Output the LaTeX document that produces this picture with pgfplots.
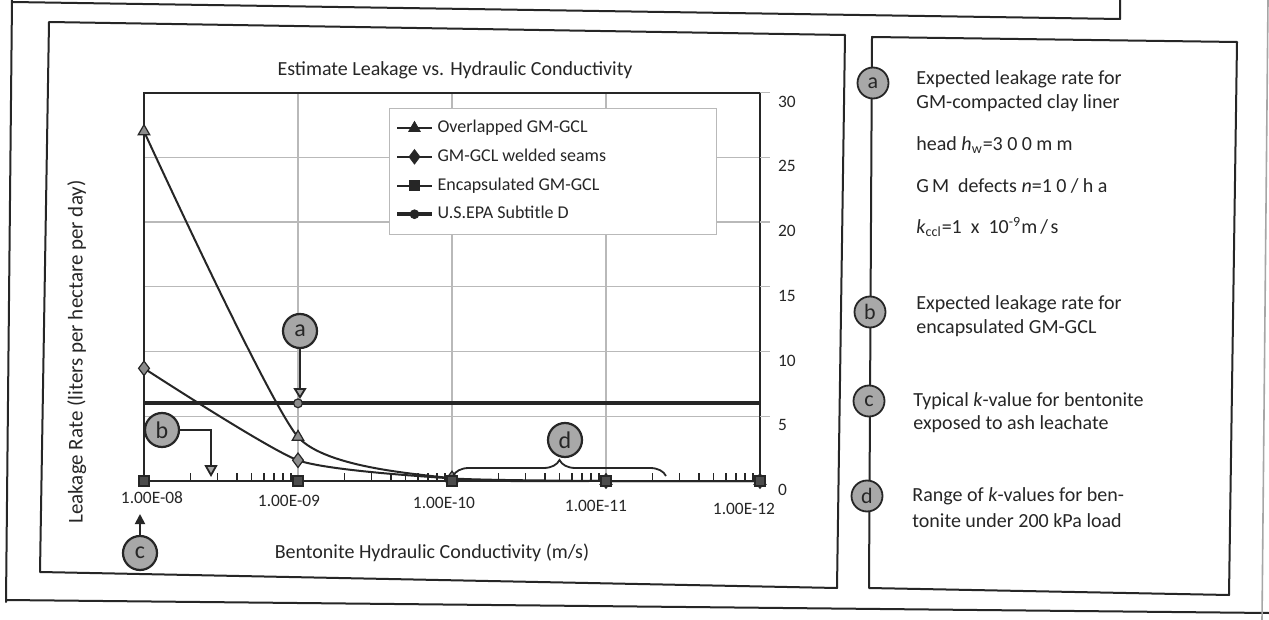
\documentclass[border=0pt]{standalone}
\usepackage{fontspec}
\setmainfont{Carlito}
\usepackage{pgfplots}
\pgfplotsset{compat=1.18}
\usetikzlibrary{arrows.meta,decorations.pathreplacing}
\definecolor{ink}{HTML}{262626}
\definecolor{markgray}{HTML}{8C8C8C}
\definecolor{circgray}{HTML}{A8A8A8}
\begin{document}
\begin{tikzpicture}
\useasboundingbox (0,0) rectangle (634.5pt,-310pt);
\fill[white] (0,0) rectangle (634.5pt,-310pt);
% ---------- frames (pixel coordinates, y downward) ----------
\begin{scope}[x=0.5pt,y=-0.5pt,line join=round,line cap=round]
  \draw[ink,line width=1pt] (12,0) -- (6,602);
  \draw[ink,line width=1pt] (12,2) -- (1120,19) -- (1120,0);
  \draw[ink,line width=1pt] (6,600) -- (1269,613);
  \draw[gray!70,line width=0.8pt] (1268,0) -- (1262,620);
  % chart panel
  \draw[ink,line width=1pt] (49,22) -- (845,35) -- (837,588) -- (40,572) -- cycle;
  % right panel
  \draw[ink,line width=1pt] (872,37) -- (1237,42) -- (1229,595) -- (869,588) -- cycle;
\end{scope}
% ---------- chart ----------
\begin{axis}[
  at={(72pt,-240.5pt)}, anchor=south west,
  scale only axis, width=308pt, height=194.25pt,
  xmin=8, xmax=12, ymin=0, ymax=30,
  clip=false,
  axis line style={ink, line width=1pt},
  xtick={8,9,10,11,12},
  xticklabels={\raisebox{2.5pt}{\hspace*{8pt}1.00E-08},
               \raisebox{1pt}{1.00E-09\hspace*{9pt}},
               1.00E-10\hspace*{8pt},
               \raisebox{-1.5pt}{1.00E-11\hspace*{10pt}},
               \raisebox{-3pt}{1.00E-12\hspace*{16pt}}},
  minor xtick={8.301,8.477,8.602,8.699,8.778,8.845,8.903,8.954,
               9.301,9.477,9.602,9.699,9.778,9.845,9.903,9.954,
               10.301,10.477,10.602,10.699,10.778,10.845,10.903,10.954,
               11.301,11.477,11.602,11.699,11.778,11.845,11.903,11.954},
  ytick={0,5,...,30},
  xtick pos=bottom, ytick pos=right, yticklabel pos=right,
  tick align=inside,
  major tick length=0pt, minor tick length=4pt,
  minor tick style={ink, line width=0.8pt},
  xmajorgrids, ymajorgrids,
  major grid style={gray!55, line width=0.6pt},
  tick label style={font=\fontsize{8.7}{10}\selectfont, text=ink},
  /pgf/number format/assume math mode=true,
  yticklabel style={xshift=5.5pt, yshift=-4.5pt},
  xticklabel style={anchor=base, yshift=-13.5pt},
  title={Estimate Leakage vs. Hydraulic Conductivity},
  every axis title/.style={at={(axis description cs:0.505,1.058)}, anchor=center, font=\fontsize{10}{12}\selectfont, text=ink},
  xlabel={Bentonite Hydraulic Conductivity (m/s)},
  every axis x label/.style={at={(axis description cs:0.4675,-0.185)}, anchor=center, font=\fontsize{10}{12}\selectfont, text=ink},
  ylabel={Leakage Rate (liters per hectare per day)},
  every axis y label/.style={at={(axis description cs:-0.109,0.332)}, anchor=center, rotate=90, font=\fontsize{10.5}{12}\selectfont, text=ink},
  legend style={at={(axis description cs:0.401,0.955)}, anchor=north west,
     draw=none, fill=none,
     font=\fontsize{9}{10}\selectfont, text=ink,
     row sep=2.6pt, inner xsep=2pt, inner ysep=3pt},
  legend cell align=left,
  legend image post style={mark options={fill=ink, draw=ink, line width=0.4pt}},
]
% legend frame (white box hiding the grid behind the legend)
\draw[gray!55, line width=0.6pt, fill=white]
  (axis description cs:0.399,0.958) rectangle (axis description cs:0.930,0.635);
\addplot[ink, line width=1pt, smooth, tension=0.33,
  mark=triangle*, mark size=3.3pt,
  mark options={fill=markgray, draw=ink, line width=0.6pt}]
  coordinates {(8,27.0) (9,3.4) (10,0.2) (11,0) (12,0)};
\addlegendentry{Overlapped GM-GCL}
\addplot[ink, line width=1pt, smooth, tension=0.33,
  mark=diamond*, mark size=3.6pt,
  mark options={fill=markgray, draw=ink, line width=0.6pt}]
  coordinates {(8,8.7) (9,1.6) (10,0.2) (11,0) (12,0)};
\addlegendentry{GM-GCL welded seams}
\addplot[ink, line width=1pt,
  mark=square*, mark size=2.5pt,
  mark options={fill=gray!60!black, draw=ink, line width=0.6pt}]
  coordinates {(8,0) (9,0) (10,0) (11,0) (12,0)};
\addlegendentry{Encapsulated GM-GCL}
\addplot[ink, line width=2pt,
  mark=*, mark size=2.2pt, mark indices={2},
  mark options={fill=markgray, draw=ink, line width=0.6pt}]
  coordinates {(8,6.0) (9,6.0) (10,6.0) (11,6.0) (12,6.0)};
\addlegendentry{U.S.EPA Subtitle D}
% tick stubs of the right-hand scale
\draw[gray!55, line width=0.6pt] (axis cs:12,5) -- ++(5pt,0pt);
\draw[gray!55, line width=0.6pt] (axis cs:12,10) -- ++(5pt,0pt);
\draw[gray!55, line width=0.6pt] (axis cs:12,15) -- ++(5pt,0pt);
\draw[gray!55, line width=0.6pt] (axis cs:12,20) -- ++(5pt,0pt);
\draw[gray!55, line width=0.6pt] (axis cs:12,25) -- ++(5pt,0pt);
\draw[gray!55, line width=0.6pt] (axis cs:12,30) -- ++(5pt,0pt);
\end{axis}
% ---------- annotations ----------
\begin{scope}[x=0.5pt,y=-0.5pt,
  lbl/.style={circle, draw=ink, line width=0.9pt, fill=circgray, minimum size=15.5pt, inner sep=0pt,
              font=\fontsize{11}{11}\selectfont, text=ink},
  big/.style={lbl, minimum size=17pt, line width=1.1pt, font=\fontsize{12}{12}\selectfont},
  txt/.style={anchor=base west, inner sep=0pt, font=\fontsize{10}{12}\selectfont, text=ink}]
  % chart callouts
  \node[big, fill=gray!70] (ca) at (300,331) {a};
  \draw[ink, line width=0.9pt, -{Triangle[length=5.5pt,width=6.5pt,fill=circgray]}] (ca.south) -- (300,399);
  \node[big] (cb) at (162,430) {b};
  \draw[ink, line width=0.9pt, -{Triangle[length=6pt,width=6.5pt,fill=circgray]}] (cb.east) -- (211,430) -- (211,477);
  \node[big] (cc) at (140,553) {c};
  \draw[ink, line width=0.9pt, -{Triangle[length=5pt,width=5pt,fill=ink]}] (cc.north) -- (140,514);
  \node[big] at (565,440) {d};
  \draw[ink, line width=0.9pt, decorate, decoration={brace, amplitude=8pt}] (453,476) -- (666,476);
  % right panel
  \node[lbl] at (873,83) {a};
  \node[lbl] at (870,312) {b};
  \node[lbl] at (869,401) {c};
  \node[lbl] at (867,496) {d};
  \node[txt] at (916,85) {Expected leakage rate for};
  \node[txt] at (916,109) {GM-compacted clay liner};
  \node[txt] at (916,151) {head \textit{h}\textsubscript{w}={\addfontfeature{LetterSpace=22}300mm}};
  \node[txt] at (916,193) {{\addfontfeature{LetterSpace=15}GM}\ \ defects \textit{n}={\addfontfeature{LetterSpace=22}10/ha}};
  \node[txt] at (916,234) {\textit{k}\textsubscript{ccl}=1\ \ x\ \ 10\textsuperscript{-9}{\addfontfeature{LetterSpace=15}m/s}};
  \node[txt] at (916,310) {Expected leakage rate for};
  \node[txt] at (916,334) {encapsulated GM-GCL};
  \node[txt] at (913,406) {Typical \textit{k}-value for bentonite};
  \node[txt] at (913,429) {exposed to ash leachate};
  \node[txt] at (912,501) {Range of \textit{k}-values for ben-};
  \node[txt] at (912,527) {tonite under 200 kPa load};
\end{scope}
\end{tikzpicture}
\end{document}
